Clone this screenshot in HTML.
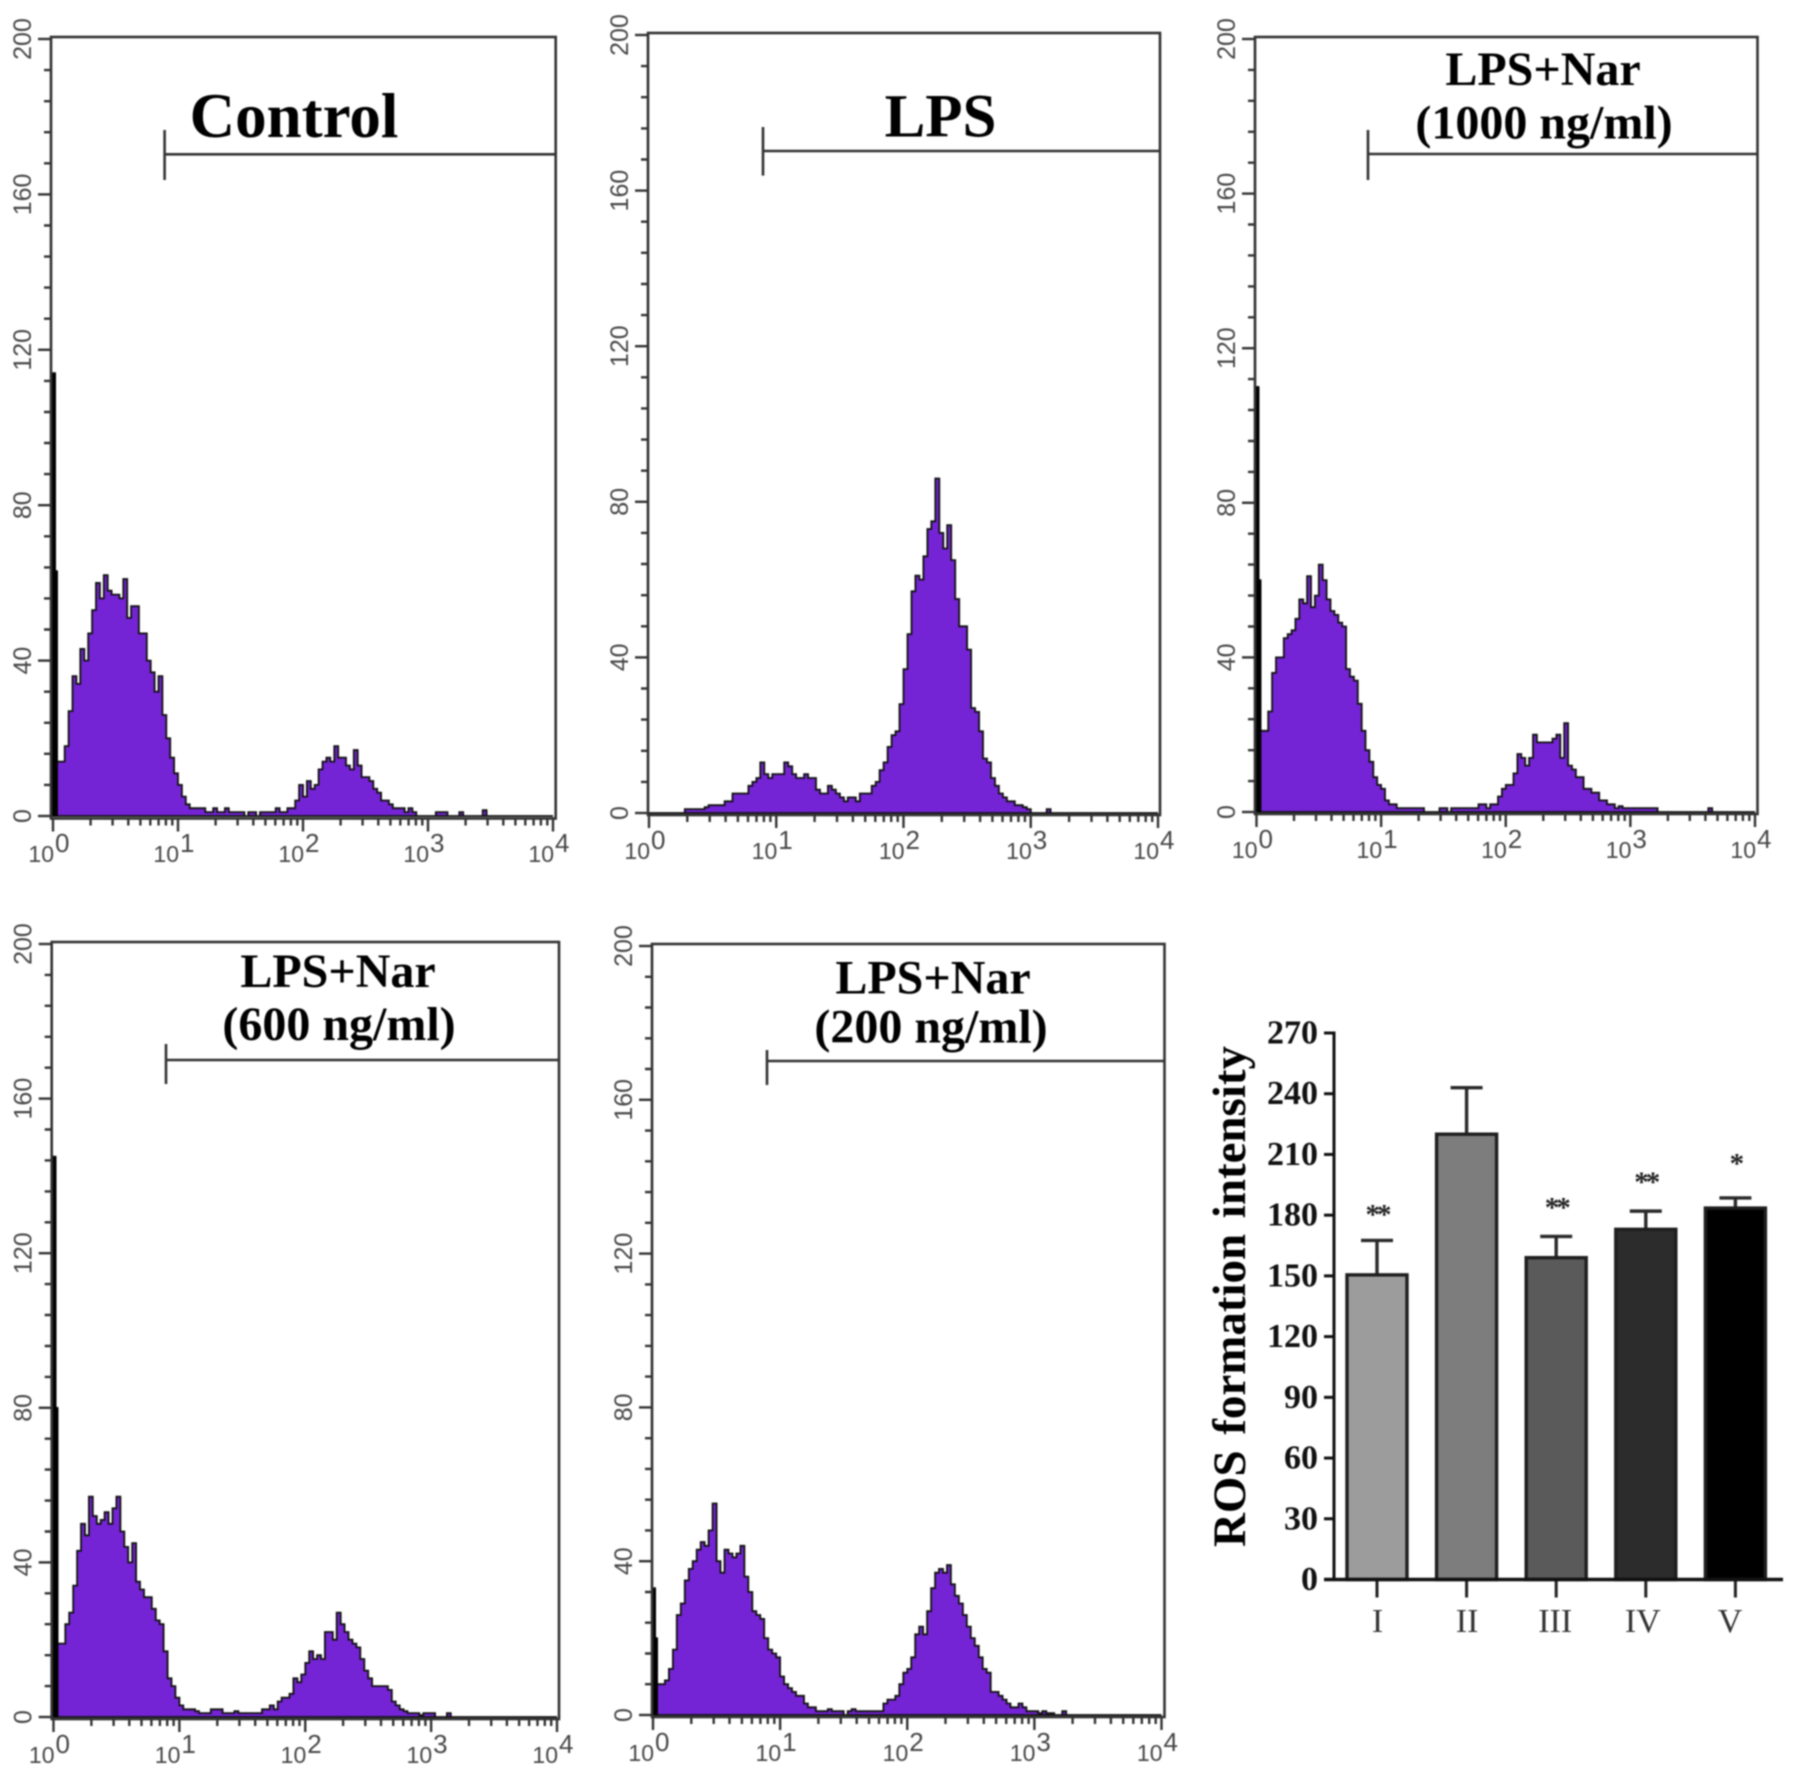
<!DOCTYPE html>
<html lang="en">
<head>
<meta charset="utf-8">
<title>ROS flow cytometry histograms</title>
<style>
html,body{margin:0;padding:0;background:#fff;width:1795px;height:1776px;overflow:hidden}
svg{display:block;filter:blur(0.8px)}
</style>
</head>
<body>
<svg id="figure" xmlns="http://www.w3.org/2000/svg" width="1795" height="1776" viewBox="0 0 1795 1776"></svg>
<script>
// Histogram series: event counts per bin (32 bins per decade, starting at 10^0)
const controlCounts=[114,63,14,18,27,36,34,43,40,47,53,60,56,62,58,57,57,56,61,51,54,54,47,47,40,37,32,36,26,20,15,11,8,5,3,2,2,2,2,1,1,2,1,1,2,1,1,1,1,0,1,1,0,1,1,1,1,2,1,1,2,2,4,8,5,9,7,8,12,14,15,14,18,15,15,13,12,17,13,10,10,9,7,6,4,4,3,2,2,2,1,2,1,0,0,0,0,0,1,1,1,0,0,0,1,0,0,0,0,0,1.5];
const lpsCounts=[0,0,0,0,0,0,0,0,0,1,1,1,1,1,1.5,2,2,2,2,3,3,5,5,5,5,7,8,9,13,10,9,10,10,10,13,12,10,9,9,10,9,9,6,5,5,7,6,5,4,3,4,4,3,5,5,5,7,8,11,13,17,20,21,28,37,46,57,61,60,66,73,75,86,72,68,74,65,55,48,48,42,27,26,21,14,13,9,7,5,4,3,3,2,2,1.5,1,0,0,0,0,1];
const nar1000Counts=[110,60,21,26,36,40,40,45,46,47,50,55,54,61,53,56,64,60,55,52,51,49,48,37,35,34,28,21,16,13,9,7,6,3,2,2,1,1,1,1,1,1,1,0,0,0,0,1,1,0,1,1,1,1,1,1,1,2,2,1,2,2,4,6,7,7,10,15,14,12,14,20,18,18,18,18,19,20,14,23,12,11,9,9,6,6,5,5,3,3,2,2,1,1.5,1,1,1,1,1,1,1,1,1,0,0,0,0,0,0,0,0,0,0,0,0,0,1];
const nar600Counts=[145,80,19,24,27,34,43,50,47,57,52,50,51,53,50,54,57,48,44,40,45,35,33,31,31,28,25,24,17,10,8,5,3,2,2,2,1.5,1,1,1,2,2,2,1,1,1,1.5,1,1,1,1,1,1,2,2,3,2,4,5,5,6,10,9,11,14,17,15,16,15,22,22,20,27,24,22,20,19,18,15,12,10,8,8,8,8,7,4,3,2,1.5,1,1,1,0.5,1,1,1,0,0,0,1];
const nar200Counts=[33,20,8,9,12,17,26,29,35,38,40,43,45,44,48,55,40,37,43,42,41,42,44,36,32,27,26,25,20,17,16,15,10,8,7,6,5,5,3,2,2,1,1,1,1.5,1,1,1,0,1,1.5,1,1,1,1,1,1,1,3,4,4,5,8,11,12,15,21,23,21,27,33,37,38,37,39,34,31,29,26,23,20,18,15,12,11,6,6,5,4,3,2,2,3,2,1,1,1,0.5,1,0.5,0.5,0,0,1];

// Histogram axis labels
const histYTicks=[0,40,80,120,160,200];
const histYMinorStep=8;
const histYMax=200;
const histDecades=[0,1,2,3,4];
const histMinorMultipliers=[2,3,4,5,6,7,8,9];
const binsPerDecade=32;

// Bar chart data
const barCategories=['I','II','III','IV','V'];
const barMeans=[150.5,220,159,173,183.5];
const barErrorTops=[167.5,243,169.5,182,188.5];
const barStars=['**','','**','**','*'];
const barStarLevels=[181.6,0,185,197.5,206.8];
const barYTicks=[0,30,60,90,120,150,180,210,240,270];
const barColors=['#9c9c9c','#7d7d7d','#5a5a5a','#2c2c2c','#000000'];

const SVGNS='http://www.w3.org/2000/svg';
const fig=document.getElementById('figure');
function mk(tag,attrs,parent,txt){
  const e=document.createElementNS(SVGNS,tag);
  for(const k in attrs){e.setAttribute(k,attrs[k]);}
  if(txt!==undefined){e.textContent=txt;}
  (parent||fig).appendChild(e);
  return e;
}
const SANS='"Liberation Sans", sans-serif';
const SERIF='"Liberation Serif", serif';
const AXIS='#333';
const TICKTXT='#474747';

const panels=[
 {id:'control',counts:controlCounts,left:51,right:555.7,top:37,bottom:818.5,x0:53,x4:553,y200:39,y0:816,gateX:164.6,gateTop:130,gateBot:180,gateY:154.3,
  titles:[{t:'Control',x:294,y:137,fs:63}]},
 {id:'lps',counts:lpsCounts,left:648,right:1160,top:33,bottom:815,x0:649,x4:1158,y200:35,y0:813,gateX:763,gateTop:127,gateBot:175.6,gateY:151,
  titles:[{t:'LPS',x:940.5,y:136.5,fs:61}]},
 {id:'nar-1000',counts:nar1000Counts,left:1255,right:1757.5,top:37,bottom:814,x0:1256.5,x4:1755,y200:39,y0:812,gateX:1368,gateTop:130,gateBot:180,gateY:154,
  titles:[{t:'LPS+Nar',x:1543,y:85,fs:48},{t:'(1000 ng/ml)',x:1544,y:138.5,fs:48}]},
 {id:'nar-600',counts:nar600Counts,left:51.7,right:559,top:942,bottom:1719,x0:53.5,x4:557,y200:944,y0:1717,gateX:166,gateTop:1044,gateBot:1084,gateY:1060,
  titles:[{t:'LPS+Nar',x:338,y:987,fs:48},{t:'(600 ng/ml)',x:339,y:1040,fs:48}]},
 {id:'nar-200',counts:nar200Counts,left:652,right:1164.5,top:944,bottom:1717,x0:653,x4:1161.5,y200:946,y0:1715,gateX:767,gateTop:1050,gateBot:1085,gateY:1061,
  titles:[{t:'LPS+Nar',x:933,y:993.5,fs:48},{t:'(200 ng/ml)',x:931,y:1042.5,fs:48}]}
];

panels.forEach(function(p){
  const g=mk('g',{});
  
  
  const sx=function(logv){return p.x0+(p.x4-p.x0)*logv/4;};
  const sy=function(v){return p.y0+(p.y200-p.y0)*v/histYMax;};

  // The two lowest channels are half a bin wide and form the spike at 10^0.
  const binRight=function(i){
    return i<2 ? sx((i+1)/(2*binsPerDecade)) : sx((i+1)/binsPerDecade);
  };

  let d='M'+sx(0)+' '+p.y0;
  p.counts.forEach(function(v,i){
    d+='V'+sy(v).toFixed(1)+'H'+binRight(i).toFixed(1);
  });
  d+='V'+p.y0+'H'+p.x4+'Z';
  const hist=mk('path',{d:d,fill:'#7424d4',stroke:'#111','stroke-width':1.8,'stroke-linejoin':'miter'},g);
  
  

  // solid black spike formed by the first two channels
  [0,1].forEach(function(b){
    const left=b===0 ? sx(0) : binRight(0);
    const s=mk('rect',{x:left-1,y:sy(p.counts[b]),width:binRight(b)-left+2,height:p.y0-sy(p.counts[b]),fill:'#000'},g);
    
    
  });

  // frame
  const frame=mk('rect',{x:p.left,y:p.top,width:p.right-p.left,height:p.bottom-p.top,fill:'none',stroke:AXIS,'stroke-width':2.6},g);
  
  

  // y ticks
  let minorY='';
  for(let v=0;v<=histYMax;v+=histYMinorStep){
    if(histYTicks.indexOf(v)<0){minorY+='M'+(p.left-7)+' '+sy(v).toFixed(1)+'H'+p.left;}
  }
  const yMinor=mk('path',{d:minorY,stroke:AXIS,'stroke-width':2.4,fill:'none'},g);
  
  
  histYTicks.forEach(function(v){
    const y=sy(v);
    const t=mk('line',{x1:p.left-13,x2:p.left,y1:y,y2:y,stroke:AXIS,'stroke-width':2.4},g);
    
    
    const tx=p.left-20;
    const l=mk('text',{x:tx,y:y,transform:'rotate(-90 '+tx+' '+y+')','text-anchor':'middle','font-family':SANS,'font-size':25,fill:TICKTXT},g,String(v));
    
    
  });

  // x ticks
  let minorX='';
  histDecades.slice(0,4).forEach(function(dec){
    histMinorMultipliers.forEach(function(m){
      const x=sx(dec+Math.log10(m)).toFixed(1);
      minorX+='M'+x+' '+p.bottom+'v7';
    });
  });
  const xMinor=mk('path',{d:minorX,stroke:AXIS,'stroke-width':2.4,fill:'none'},g);
  
  
  histDecades.forEach(function(dec){
    const x=sx(dec);
    const t=mk('line',{x1:x,x2:x,y1:p.bottom,y2:p.bottom+13,stroke:AXIS,'stroke-width':2.4},g);
    
    
    const l=mk('text',{x:x+1,y:p.y0+46,'text-anchor':'end','font-family':SANS,'font-size':23,fill:TICKTXT},g,'10');
    
    
    const s=mk('text',{x:x+2,y:p.y0+36,'font-family':SANS,'font-size':26,fill:TICKTXT},g,String(dec));
    
    
  });

  // gate marker
  const gate=mk('path',{d:'M'+p.gateX+' '+p.gateTop+'V'+p.gateBot+'M'+p.gateX+' '+p.gateY+'H'+p.right,stroke:AXIS,'stroke-width':2.6,fill:'none'},g);
  
  

  // titles
  p.titles.forEach(function(t){
    const e=mk('text',{x:t.x,y:t.y,'text-anchor':'middle','font-family':SERIF,'font-weight':'bold','font-size':t.fs,fill:'#000'},g,t.t);
    
    
  });
});

// Bar chart
(function(){
  const g=mk('g',{});
  
  
  const yTop=1033, yZero=1579.5, axisX=1334, barW=60, firstCenter=1377, step=89.6;
  const labelShift=[0.5,0.5,-1,-3,-5.4];
  const sy=function(v){return yZero+(yTop-yZero)*v/270;};
  const sx=function(i){return firstCenter+step*i;};

  barMeans.forEach(function(v,i){
    const cx=sx(i);
    const err=mk('path',{d:'M'+cx+' '+sy(v)+'V'+sy(barErrorTops[i])+'M'+(cx-16)+' '+sy(barErrorTops[i])+'H'+(cx+16),stroke:'#2a2a2a','stroke-width':3.4,fill:'none'},g);
    
    
    const bar=mk('rect',{x:cx-barW/2,y:sy(v),width:barW,height:yZero-sy(v),fill:barColors[i],stroke:'#1e1e1e','stroke-width':3.4},g);
    
    
    const lab=mk('text',{x:cx+labelShift[i],y:1632,'text-anchor':'middle','font-family':SERIF,'font-size':34,fill:'#333'},g,barCategories[i]);
    
    
    const tick=mk('line',{x1:cx,x2:cx,y1:yZero,y2:yZero+18,stroke:'#222','stroke-width':3},g);
    
    
    if(barStars[i]){
      const st=mk('text',{x:cx,y:sy(barStarLevels[i])+12,'text-anchor':'middle','font-family':SERIF,'font-weight':'bold','font-size':29,'letter-spacing':-3,fill:'#222'},g,barStars[i]);
      
      
    }
  });

  const yAxis=mk('line',{x1:axisX,x2:axisX,y1:yTop-1.5,y2:yZero,stroke:'#111','stroke-width':3},g);
  
  
  const xAxis=mk('line',{x1:1324,x2:1783,y1:yZero,y2:yZero,stroke:'#111','stroke-width':3.4},g);
  
  

  barYTicks.forEach(function(v){
    const y=sy(v);
    const t=mk('line',{x1:axisX-10,x2:axisX,y1:y,y2:y,stroke:'#111','stroke-width':3},g);
    
    
    const l=mk('text',{x:1318,y:y+10.5,'text-anchor':'end','font-family':SERIF,'font-weight':'bold','font-size':34,fill:'#111'},g,String(v));
    
    
  });

  const title=mk('text',{x:1245,y:1296.5,transform:'rotate(-90 1245 1296.5)','text-anchor':'middle','font-family':SERIF,'font-weight':'bold','font-size':47,'word-spacing':4,textLength:501,lengthAdjust:'spacing',fill:'#000'},g,'ROS formation intensity');
  
  
})();
</script>
</body>
</html>
